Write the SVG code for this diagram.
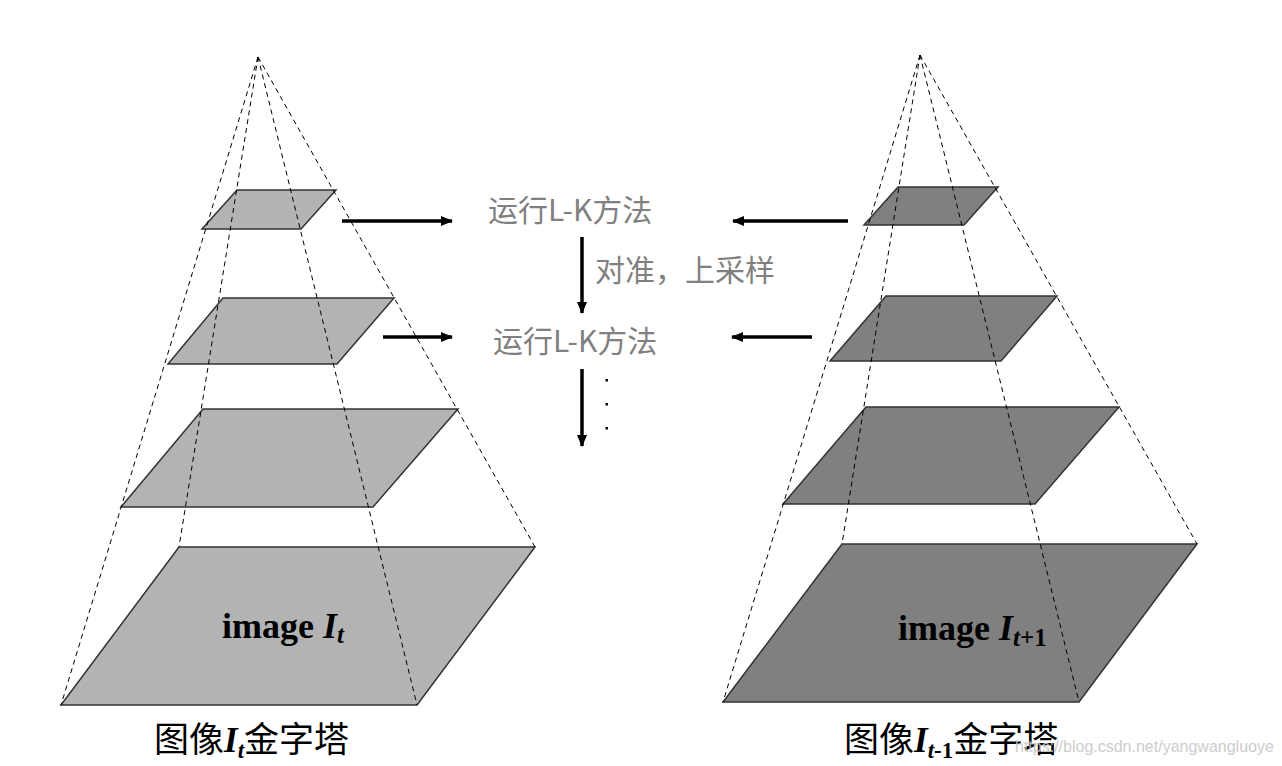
<svg xmlns="http://www.w3.org/2000/svg" width="1282" height="766" viewBox="0 0 1282 766">
<style>
.pl{fill:#b3b3b3;stroke:#333;stroke-width:1.5;stroke-linejoin:miter}
.pr{fill:#808080;stroke:#333;stroke-width:1.5;stroke-linejoin:miter}
.dash{stroke:#000;stroke-width:1;stroke-dasharray:5 4;fill:none}
.arr{stroke:#000;stroke-width:3.5;fill:none}
.lk{font-family:"Microsoft YaHei","Noto Sans CJK SC",sans-serif;font-size:30px;fill:#808080}
.img{font-family:"Liberation Serif",serif;font-weight:bold;font-size:36px;fill:#000}
.cap{font-family:"Noto Sans CJK SC",sans-serif;font-size:35px;fill:#000}
.it{font-family:"Liberation Serif",serif;font-weight:bold;font-style:italic}
.rm{font-family:"Liberation Serif",serif;font-weight:bold}
</style>
<defs>
<marker id="ah" markerWidth="12" markerHeight="10" refX="11" refY="5" orient="auto" markerUnits="userSpaceOnUse">
<path d="M0,0 L12,5 L0,10 Z" fill="#000"/>
</marker>
</defs>
<rect width="1282" height="766" fill="#fff"/>

<g id="pyramid-left">
<polygon class="pl" points="179,547 535,547 417,705 61,705"/>
<polygon class="pl" points="203,409 458,409 373,507 121,507"/>
<polygon class="pl" points="223,298 394,298 337,364 168,364"/>
<polygon class="pl" points="237,190 336,190 301,229 202,229"/>
<g class="dash">
<line x1="258" y1="57" x2="61" y2="705"/>
<line x1="258" y1="57" x2="179" y2="547"/>
<line x1="258" y1="57" x2="417" y2="705"/>
<line x1="258" y1="57" x2="535" y2="547"/>
</g>
<text class="img" x="222" y="638">image <tspan class="it">I</tspan><tspan class="it" font-size="25" dy="5">t</tspan></text>
</g>

<g id="pyramid-right">
<polygon class="pr" points="842,544 1197,544 1079,702 723,702"/>
<polygon class="pr" points="866,407 1119,407 1035,504 783,504"/>
<polygon class="pr" points="886,296 1057,296 1001,361 830,361"/>
<polygon class="pr" points="898,187 998,187 964,225 864,225"/>
<g class="dash">
<line x1="920" y1="55" x2="723" y2="702"/>
<line x1="920" y1="55" x2="842" y2="544"/>
<line x1="920" y1="55" x2="1079" y2="702"/>
<line x1="920" y1="55" x2="1197" y2="544"/>
</g>
<text class="img" x="898" y="640">image <tspan class="it">I</tspan><tspan class="it" font-size="25" dy="6">t</tspan><tspan class="rm" font-size="25">+1</tspan></text>
</g>

<g id="label-lk1"><text class="lk" x="488" y="221">运行L-K方法</text></g>
<g id="label-align"><text class="lk" x="595" y="281">对准，上采样</text></g>
<g id="label-lk2"><text class="lk" x="493" y="352">运行L-K方法</text></g>
<g id="dots" fill="#000">
<rect x="605.5" y="379" width="2.5" height="2.5"/>
<rect x="605.5" y="403" width="2.5" height="2.5"/>
<rect x="605.5" y="427" width="2.5" height="2.5"/>
</g>

<g id="connectors">
<line class="arr" x1="342" y1="221" x2="452" y2="221" marker-end="url(#ah)"/>
<line class="arr" x1="383" y1="337" x2="452" y2="337" marker-end="url(#ah)"/>
<line class="arr" x1="848" y1="221" x2="733" y2="221" marker-end="url(#ah)"/>
<line class="arr" x1="812" y1="337" x2="732" y2="337" marker-end="url(#ah)"/>
<line class="arr" x1="582" y1="237" x2="582" y2="313" marker-end="url(#ah)"/>
<line class="arr" x1="582" y1="369" x2="582" y2="446" marker-end="url(#ah)"/>
</g>

<g id="caption-left">
<text class="cap" x="154" y="752">图像<tspan class="it">I</tspan><tspan class="it" font-size="23" dy="6">t</tspan><tspan dy="-6">金字塔</tspan></text>
</g>
<g id="caption-right">
<text class="cap" x="844" y="752">图像<tspan class="it">I</tspan><tspan class="it" font-size="23" dy="6">t</tspan><tspan class="rm" font-size="23">-1</tspan><tspan dy="-6">金字塔</tspan></text>
</g>
<g id="watermark">
<text x="1015" y="752" font-family="Liberation Sans, sans-serif" font-size="16" fill="#c8c8c8" opacity="0.9">https://blog.csdn.net/yangwangluoye</text>
</g>
</svg>
